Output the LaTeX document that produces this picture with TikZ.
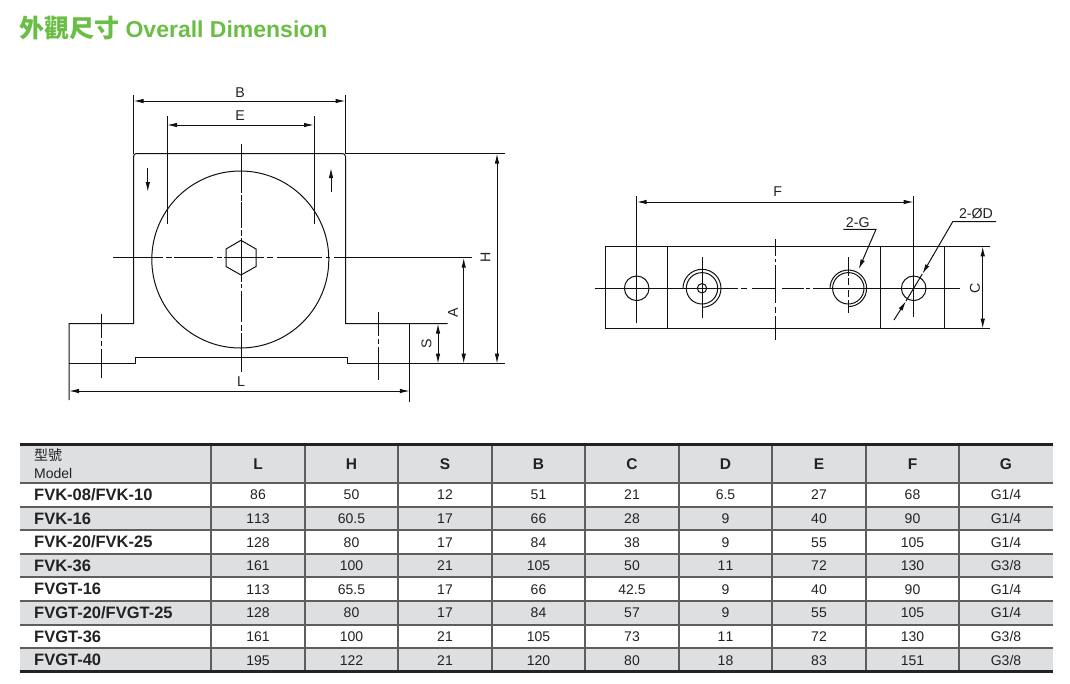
\documentclass[tikz,border=0pt]{standalone}
\usepackage{fontspec}
\setmainfont{Liberation Sans}
\newfontfamily\cjk{Noto Sans CJK TC}
\newfontfamily\numeri[Kerning=Off]{Liberation Sans}
\usetikzlibrary{arrows.meta}
\definecolor{titolo}{HTML}{6ABD45}
\definecolor{riga}{HTML}{DEDFE1}
\definecolor{tratto}{HTML}{222222}
\definecolor{linea}{HTML}{111111}
\definecolor{griglia}{HTML}{5E5E5E}
\begin{document}
\begin{tikzpicture}[x=1pt,y=-1pt,
contorno/.style={draw=linea,line width=1pt},
quota/.style={draw=linea,line width=1pt,{Latex[length=10pt,width=4.5pt]}-{Latex[length=10pt,width=4.5pt]}},
freccia/.style={draw=linea,line width=1pt,-{Latex[length=10pt,width=4.5pt]}},
asse/.style={draw=linea,line width=1pt},
etichetta/.style={font=\fontsize{14.2}{15}\selectfont,text=tratto,inner sep=0pt},
etichettaV/.style={etichetta,rotate=90},
cella/.style={font=\fontsize{14}{15}\selectfont\numeri,text=tratto,inner sep=0pt,text height=10pt,text depth=0pt},
testata/.style={font=\fontsize{15.5}{16}\selectfont\bfseries,text=tratto,inner sep=0pt},
modello/.style={font=\fontsize{16.5}{17}\selectfont\bfseries,text=tratto,inner sep=0pt,anchor=west,text height=11.5pt,text depth=0pt}
]
\useasboundingbox (0,0) rectangle (1070,683);
\node[anchor=west,inner sep=0pt,text=titolo,font=\fontsize{23}{24}\selectfont\bfseries](titolo) at (19,28.5){{\cjk\fontsize{25}{26}\selectfont 外觀尺寸} Overall Dimension};
%-- front view
\draw[contorno] (69,363) -- (135,363) -- (135,357.7) -- (347.8,357.7) -- (347.8,363.7) -- (505,363.7);
\draw[contorno] (69,400) -- (69,323.5) -- (133.5,323.5) -- (133.5,156.5) arc[start angle=180,end angle=270,radius=3] -- (342.5,153.5) arc[start angle=270,end angle=360,radius=3] -- (345.5,323.5) -- (447.5,323.5);
\draw[contorno] (345.5,153.5) -- (505,153.5);
\draw[contorno] (240.3,259.5) circle[radius=88.5];
\draw[contorno] (241,240.3) -- (256,249) -- (256,266.5) -- (241,275) -- (226,266.5) -- (226,249) -- cycle;
\draw[asse,dash pattern=on 49pt off 1.5pt on 6pt off 1.5pt on 26pt off 2pt on 6pt off 2pt on 44pt off 2pt on 4pt off 3pt on 31pt off 3pt on 6pt off 2pt on 60pt] (241,144) -- (241,372);
\draw[asse,dash pattern=on 50pt off 3pt on 6pt off 2pt on 39pt off 4pt on 5pt off 2pt on 40pt off 3pt on 6pt off 4pt on 45pt off 4pt on 4pt off 4pt on 150pt] (113,257.7) -- (472,257.7);
\draw[asse,dash pattern=on 24pt off 3pt on 5pt off 3pt on 40pt] (101,314) -- (101,378);
\draw[asse,dash pattern=on 24pt off 3pt on 5pt off 3pt on 40pt] (378.3,312) -- (378.3,380);
\draw[freccia] (147.8,168) -- (147.8,192);
\draw[freccia] (331,192) -- (331,168);
%-- quote
\draw[contorno] (133.5,95) -- (133.5,153.5);
\draw[contorno] (345.5,95) -- (345.5,153.5);
\draw[quota] (133.5,101) -- (345.5,101);
\node[etichetta](lblB) at (240,93){B};
\draw[contorno] (167,116) -- (167,224);
\draw[contorno] (314,116) -- (314,224);
\draw[quota] (167,125) -- (314,125);
\node[etichetta](lblE) at (240,116){E};
\draw[quota] (497,153.5) -- (497,363.7);
\node[etichettaV](lblH) at (485.5,257){H};
\draw[quota] (463.7,257.7) -- (463.7,363.7);
\node[etichettaV](lblA) at (453,312.7){A};
\draw[quota] (438,323.5) -- (438,363.7);
\node[etichettaV](lblS) at (426.5,344){S};
\draw[contorno] (409.8,323.5) -- (409.8,402);
\draw[quota] (69,391) -- (409.8,391);
\node[etichetta](lblL) at (241,381.5){L};
%-- side view
\draw[contorno] (990,246.3) -- (605,246.3) -- (605,328.7) -- (990,328.7);
\foreach \xv in {667.7,880.7,944.3}
  \draw[contorno] (\xv,246.3) -- (\xv,328.7);
\draw[asse,dash pattern=on 17pt off 3pt on 3pt off 3pt on 38pt off 4pt on 6pt off 3pt on 40pt] (775.3,239) -- (775.3,340);
\draw[contorno] (594.7,288.3) -- (738,288.3);
\draw[asse,dash pattern=on 6pt off 5pt on 24pt off 6pt on 22pt off 2pt on 4pt off 3pt on 200pt] (741,288.3) -- (960,288.3);
%--
\draw[contorno] (636.7,288.3) circle[radius=12.3];
\draw[contorno] (636.7,196) -- (636.7,322.7);
\draw[contorno] (913.7,288.3) circle[radius=12.3];
\draw[contorno] (913.7,196) -- (913.7,316.7);
\draw[quota] (636.7,202) -- (913.7,202);
\node[etichetta](lblF) at (777.7,192){F};
%--
\draw[contorno] (702,288.3) circle[radius=15.7];
\draw[contorno] (702,288.3) circle[radius=4.7];
\draw[contorno] (683,288.3) arc[start angle=180,end angle=450,radius=19];
\draw[contorno] (702,256.7) -- (702,318.3);
%--
\draw[contorno] (848.3,288.3) circle[radius=15.7];
\draw[contorno] (830,288.3) arc[start angle=180,end angle=450,radius=18.3];
\draw[asse,dash pattern=on 19pt off 2pt on 7pt off 5pt on 7pt off 3pt on 20pt] (848.3,257) -- (848.3,313);
%-- leader
\draw[freccia] (843.3,229.3) -- (876,229.3) -- (858.7,269.3);
\node[etichetta](lblG) at (857.7,222.7){2-G};
\coordinate (fineD) at (894,320);
\coordinate (puntaD) at (906,301);
\draw[freccia] (996,221.7) -- (952.7,221.7) -- (922.3,274);
\draw[contorno] (922.3,274) -- (puntaD);
\draw[freccia] (fineD) -- (puntaD);
\node[etichetta](lblD) at (976,213.3){2-ØD};
\draw[quota] (982.7,246.3) -- (982.7,328.7);
\node[etichettaV](lblC) at (975,288){C};
%-- table
\foreach \r in {0,2,4,6,8}{
  \pgfmathsetmacro{\ya}{\r==0 ? 444 : 483+23.6*(\r-1)}
  \pgfmathsetmacro{\yb}{483+23.6*\r}
  \fill[riga] (19.5,\ya) rectangle (1053,\yb);
}
\foreach \xv in {211,305,398,492,585,679,772,866,959}
  \draw[draw=griglia,line width=2pt] (\xv,444) -- (\xv,672);
\foreach \r in {0,...,7}
  \draw[draw=griglia,line width=2pt] (19.5,483+23.6*\r) -- (1053,483+23.6*\r);
\draw[draw=tratto,line width=3pt] (19.5,444.5) -- (1053,444.5);
\draw[draw=tratto,line width=3pt] (19.5,671.7) -- (1053,671.7);
%--
\node[inner sep=0pt,text=tratto,anchor=west,font=\fontsize{14}{15}\selectfont\cjk](model1) at (34,455.5){型號};
\node[inner sep=0pt,text=tratto,anchor=west,font=\fontsize{14}{15}\selectfont](model2) at (34,473){Model};
\foreach \t/\xv in {L/258,H/351.5,S/445,B/538.5,C/632,D/725.5,E/819,F/912.5,G/1006}
  \node[testata](h\t) at (\xv,464){\t};
%--
\foreach \nome/\vL/\vH/\vS/\vB/\vC/\vD/\vE/\vF/\vG [count=\r] in {
{FVK-08/FVK-10}/86/50/12/51/21/6.5/27/68/{G1/4},
{FVK-16}/113/60.5/17/66/28/9/40/90/{G1/4},
{FVK-20/FVK-25}/128/80/17/84/38/9/55/105/{G1/4},
{FVK-36}/161/100/21/105/50/11/72/130/{G3/8},
{FVGT-16}/113/65.5/17/66/42.5/9/40/90/{G1/4},
{FVGT-20/FVGT-25}/128/80/17/84/57/9/55/105/{G1/4},
{FVGT-36}/161/100/21/105/73/11/72/130/{G3/8},
{FVGT-40}/195/122/21/120/80/18/83/151/{G3/8}}{
  \pgfmathsetmacro{\yr}{483+23.6*(\r-0.5)}
  \node[modello](m\r) at (34,\yr){\nome};
  \node[cella](cL\r) at (258,\yr){\vL};
  \node[cella](cH\r) at (351.5,\yr){\vH};
  \node[cella](cS\r) at (445,\yr){\vS};
  \node[cella](cB\r) at (538.5,\yr){\vB};
  \node[cella](cC\r) at (632,\yr){\vC};
  \node[cella](cD\r) at (725.5,\yr){\vD};
  \node[cella](cE\r) at (819,\yr){\vE};
  \node[cella](cF\r) at (912.5,\yr){\vF};
  \node[cella](cG\r) at (1006,\yr){\vG};
}
\end{tikzpicture}
\end{document}
